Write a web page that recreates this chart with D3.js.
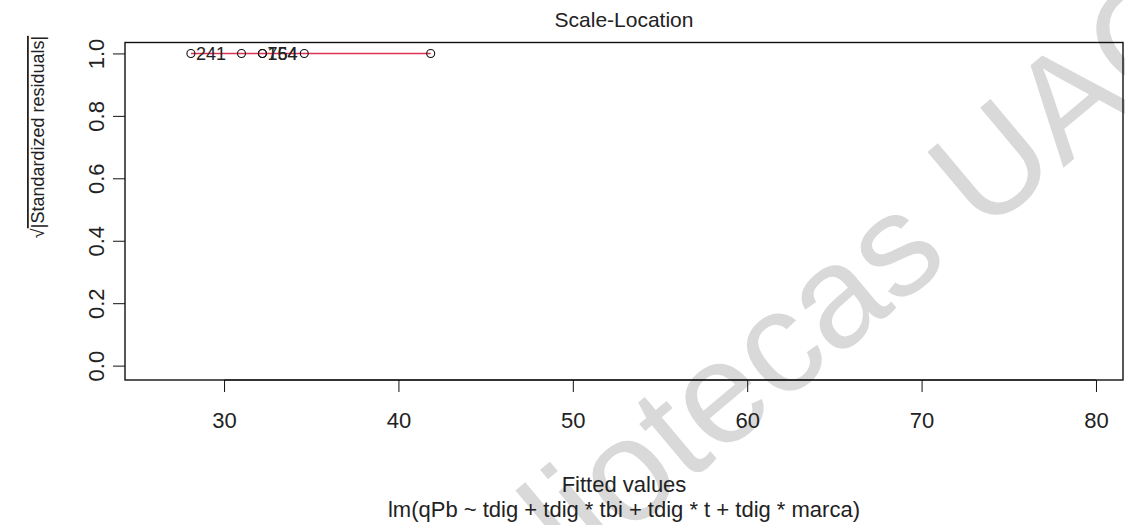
<!DOCTYPE html>
<html>
<head>
<meta charset="utf-8">
<script src="https://cdn.jsdelivr.net/npm/d3@7"></script>
<style>
  body { margin: 0; background: #fff; }
  svg { display: block; font-family: "Liberation Sans", Arial, sans-serif; }
</style>
</head>
<body>
<svg id="chart" width="1125" height="525"></svg>
<script>
// fitted values and sqrt(|standardized residuals|)
const fitted = [28.1, 31.0, 32.2, 32.2, 34.6, 41.85];
const sqrtRes = [1.0, 1.0, 1.0, 1.0, 1.0, 1.0];
const pointIds = ['241', '', '754', '164', '', ''];
const xTicks = [30, 40, 50, 60, 70, 80];
const yTicks = [0.0, 0.2, 0.4, 0.6, 0.8, 1.0];

const svg = d3.select('#chart');
const box = { left: 125, right: 1123, top: 42.5, bottom: 380 };

// watermark behind the plot
svg.append('text')
  .attr('transform', 'translate(415,712) rotate(-40)')
  .attr('font-size', 145)
  .attr('fill', '#d9d9d9')
  .text('Bibliotecas UAC');

const x = d3.scaleLinear().domain([24.32, 81.55]).range([box.left, box.right]);
const y = d3.scaleLinear().domain([-0.046, 1.035]).range([box.bottom, box.top]);

// axes, R style: outward ticks, line only between first and last tick
const xAxis = svg.append('g').attr('transform', `translate(0,${box.bottom})`)
  .call(d3.axisBottom(x).tickValues(xTicks).tickSize(12).tickPadding(20).tickFormat(d3.format('d')));
const yAxis = svg.append('g').attr('transform', `translate(${box.left},0)`)
  .call(d3.axisLeft(y).tickValues(yTicks).tickSize(12).tickFormat(d3.format('.1f')));

[xAxis, yAxis].forEach(g => {
  g.select('.domain').remove();
  g.selectAll('line').attr('stroke', '#111');
  g.selectAll('text').attr('font-size', 22).attr('fill', '#222')
    .attr('font-family', '"Liberation Sans", Arial, sans-serif');
});
xAxis.append('line')
  .attr('x1', x(xTicks[0])).attr('x2', x(xTicks[xTicks.length - 1]))
  .attr('stroke', '#111');
yAxis.selectAll('.tick text')
  .attr('x', 0).attr('y', 0).attr('dy', 0)
  .attr('text-anchor', 'middle')
  .attr('transform', 'translate(-21,0) rotate(-90)');

// plot box
svg.append('rect')
  .attr('x', box.left).attr('y', box.top)
  .attr('width', box.right - box.left).attr('height', box.bottom - box.top)
  .attr('fill', 'none').attr('stroke', '#111').attr('stroke-width', 1.4);

// smoother
const pts = fitted.map((f, i) => ({ f, r: sqrtRes[i], id: pointIds[i] }));
svg.append('path')
  .datum(pts.slice().sort((a, b) => a.f - b.f))
  .attr('fill', 'none').attr('stroke', '#dd3355').attr('stroke-width', 1.4)
  .attr('d', d3.line().x(d => x(d.f)).y(d => y(d.r)));

// points
svg.append('g').selectAll('circle').data(pts).join('circle')
  .attr('cx', d => x(d.f)).attr('cy', d => y(d.r)).attr('r', 4)
  .attr('fill', 'none').attr('stroke', '#111').attr('stroke-width', 1.1);

// labels of the largest residuals
svg.append('g').selectAll('text').data(pts.filter(d => d.id)).join('text')
  .attr('x', d => x(d.f) + 5).attr('y', d => y(d.r)).attr('dy', '0.36em')
  .attr('font-size', 18).attr('fill', '#222')
  .text(d => d.id);

// titles
svg.append('text').attr('x', 624).attr('y', 27).attr('text-anchor', 'middle')
  .attr('font-size', 21).attr('fill', '#222').text('Scale-Location');
svg.append('text').attr('x', 624).attr('y', 492).attr('text-anchor', 'middle')
  .attr('font-size', 22).attr('fill', '#222').text('Fitted values');
svg.append('text').attr('x', 624).attr('y', 517).attr('text-anchor', 'middle')
  .attr('font-size', 22).attr('fill', '#222')
  .text('lm(qPb ~ tdig + tdig * tbi + tdig * t + tdig * marca)');
const ylab = svg.append('text')
  .attr('transform', 'translate(44,137) rotate(-90)')
  .attr('text-anchor', 'middle')
  .attr('font-size', 18).attr('fill', '#222');
ylab.append('tspan').text('√');
ylab.append('tspan').attr('text-decoration', 'overline').text('|Standardized residuals|');
</script>
</body>
</html>
